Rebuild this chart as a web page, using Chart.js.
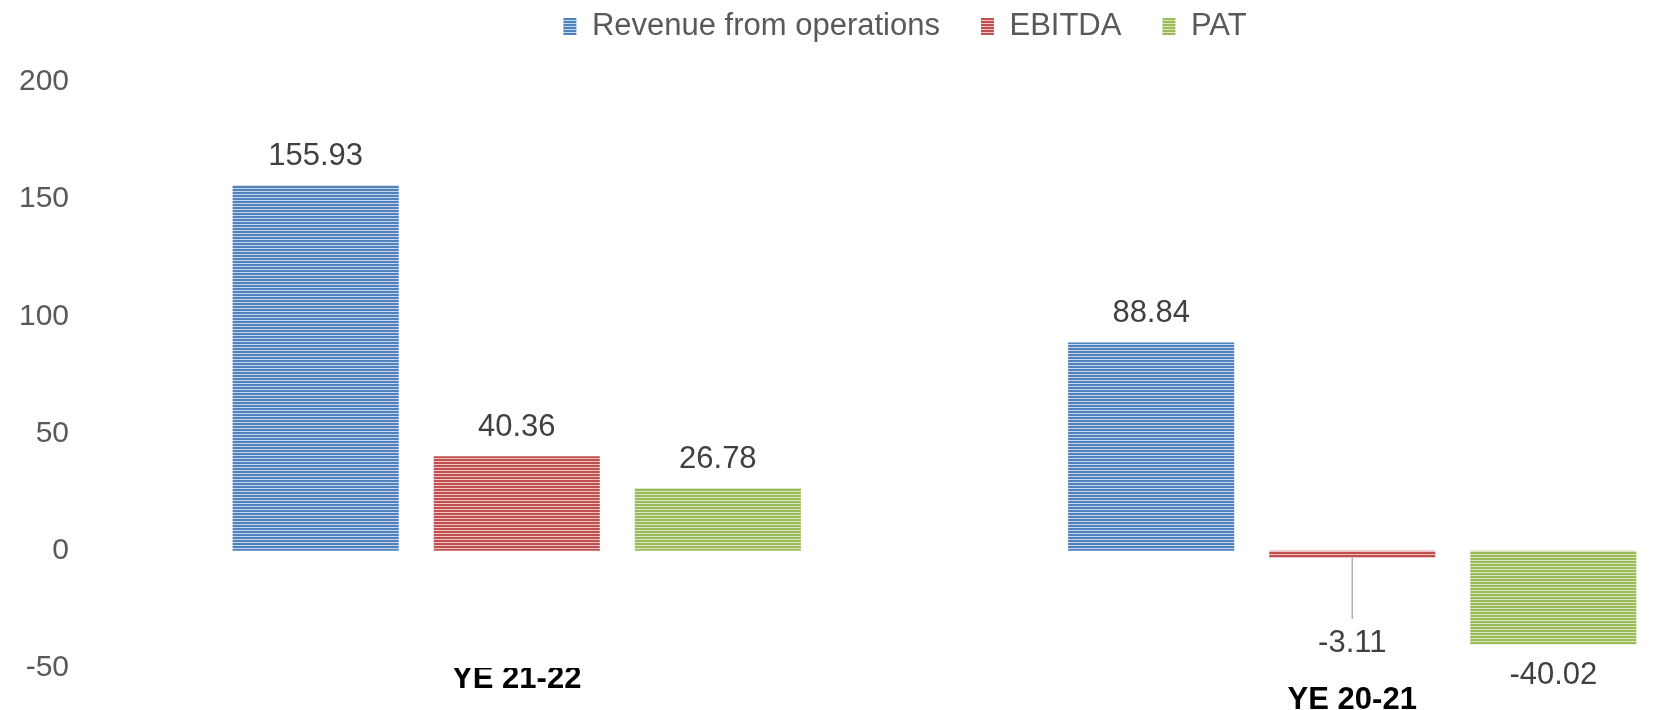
<!DOCTYPE html>
<html>
<head>
<meta charset="utf-8">
<script src="https://cdn.jsdelivr.net/npm/chart.js@4.4.1/dist/chart.umd.min.js"></script>
<style>
  html, body { margin: 0; padding: 0; overflow: hidden; background: #fff; }
  #wrap { width: 1770px; height: 710px; position: relative; }
</style>
</head>
<body>
<div id="wrap"><canvas id="finChart"></canvas></div>
<script>
// 数値
const categories = ['YE 21-22', 'YE 20-21'];
const seriesNames = ['Revenue from operations', 'EBITDA', 'PAT'];
const revenue = [155.93, 88.84];
const ebitda = [40.36, -3.11];
const pat = [26.78, -40.02];
const yTicks = { min: -50, max: 200, step: 50 };

// 横縞パターン（濃 2px / 淡 1px）
function stripePattern(dark, light) {
  const c = document.createElement('canvas');
  c.width = 4;
  c.height = 3;
  const g = c.getContext('2d');
  g.fillStyle = dark;
  g.fillRect(0, 0, 4, 2);
  g.fillStyle = light;
  g.fillRect(0, 2, 4, 1);
  return g.createPattern(c, 'repeat');
}

const fills = [
  stripePattern('#4f81bd', '#c6d5ec'),
  stripePattern('#c0504d', '#ebc4c3'),
  stripePattern('#9bbb59', '#d9e6c1')
];

// 凡例の位置調整
const legendShift = {
  id: 'legendShift',
  afterLayout(chart) {
    const lg = chart.legend;
    if (!lg) return;
    lg.left += 20;
    lg.right += 20;
    lg.top -= 30;
    lg.bottom -= 30;
  }
};

// データラベル
const barLabels = {
  id: 'barLabels',
  afterDatasetsDraw(chart) {
    const ctx = chart.ctx;
    ctx.save();
    ctx.font = '31px "Liberation Sans", Arial, sans-serif';
    ctx.fillStyle = '#404040';
    ctx.textAlign = 'center';
    ctx.textBaseline = 'middle';
    chart.data.datasets.forEach((ds, di) => {
      const meta = chart.getDatasetMeta(di);
      meta.data.forEach((bar, i) => {
        const v = ds.data[i];
        const txt = v.toFixed(2);
        if (v >= 0) {
          ctx.fillText(txt, bar.x, bar.y - 29);
        } else if (bar.y - bar.base < 20) {
          // 短い棒はラベルを離して引き出し線
          ctx.strokeStyle = '#a6a6a6';
          ctx.lineWidth = 1.3;
          ctx.beginPath();
          ctx.moveTo(bar.x, bar.y);
          ctx.lineTo(bar.x, bar.y + 61);
          ctx.stroke();
          ctx.fillText(txt, bar.x, bar.y + 85);
        } else {
          ctx.fillText(txt, bar.x, bar.y + 31);
        }
      });
    });
    ctx.restore();
  }
};

Chart.defaults.font.family = '"Liberation Sans", Arial, sans-serif';

const seriesData = [revenue, ebitda, pat];

new Chart(document.getElementById('finChart'), {
  type: 'bar',
  data: {
    labels: categories,
    datasets: seriesNames.map((name, i) => ({
      label: name,
      data: seriesData[i],
      backgroundColor: fills[i],
      borderColor: 'rgba(0,0,0,0)',
      borderWidth: 0,
      categoryPercentage: 0.722,
      barPercentage: 0.826
    }))
  },
  options: {
    responsive: true,
    maintainAspectRatio: false,
    animation: false,
    layout: { padding: 0 },
    scales: {
      x: {
        grid: { display: false, drawTicks: false },
        border: { display: false },
        afterFit: (s) => { s.height = 42; },
        ticks: {
          autoSkip: false,
          maxRotation: 0,
          padding: 1,
          color: '#000000',
          font: { size: 31, weight: 'bold', lineHeight: 0.68 },
          callback: (v, i) => (i % 2 ? ['', categories[i]] : categories[i])
        }
      },
      y: {
        min: yTicks.min,
        max: yTicks.max,
        grid: { display: false, drawTicks: false },
        border: { display: false },
        afterFit: (s) => { s.width = 99; },
        ticks: {
          stepSize: yTicks.step,
          padding: 30,
          color: '#595959',
          font: { size: 30, lineHeight: 0.5 }
        }
      }
    },
    plugins: {
      legend: {
        position: 'top',
        labels: {
          boxWidth: 13,
          boxHeight: 17,
          padding: 41,
          color: '#595959',
          font: { size: 31 }
        }
      },
      tooltip: { enabled: false }
    }
  },
  plugins: [legendShift, barLabels]
});
</script>
</body>
</html>
